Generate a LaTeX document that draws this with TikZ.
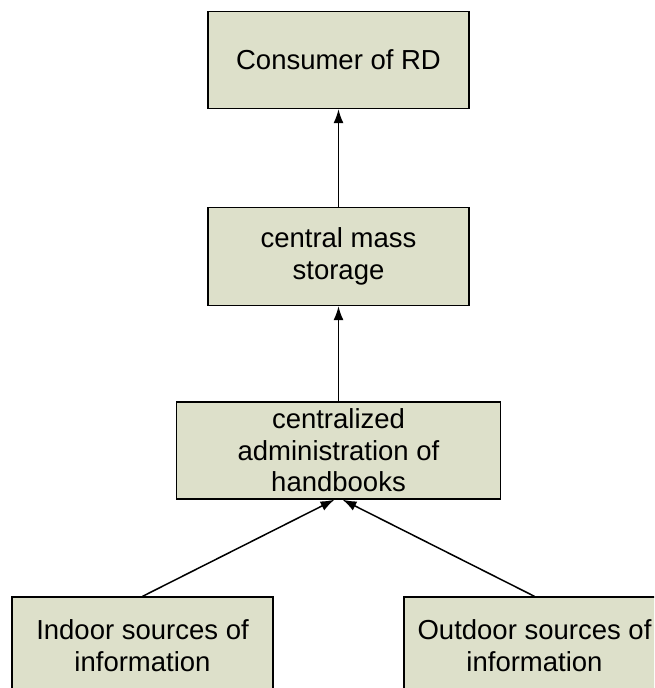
\documentclass[tikz,border=0pt]{standalone}
\usepackage{fontspec}
\setmainfont{Liberation Sans}
\usetikzlibrary{arrows.meta}
\definecolor{boxfill}{HTML}{DDE0CA}
\tikzset{
  block/.style={draw=black, line width=1.3pt, fill=boxfill, align=center,
    inner sep=0pt, font=\fontsize{27.5}{31.5}\selectfont},
  link/.style={line width=1.5pt, -{Latex[length=14pt,width=10pt]}}
}
\begin{document}
\begin{tikzpicture}[x=1pt,y=-1pt]
\useasboundingbox (0,0) rectangle (654,688);
\clip (0,0) rectangle (654,688);
\node[block, minimum width=261pt, minimum height=97pt] (cons) at (338.5,60) {Consumer of RD};
\node[block, minimum width=261pt, minimum height=98pt] (store) at (338.5,256.5) {central mass\\storage};
\node[block, minimum width=324pt, minimum height=97pt] (admin) at (338.5,450.5) {centralized\\administration of\\handbooks};
\node[block, minimum width=261pt, minimum height=97pt] (indoor) at (142.5,645.5) {Indoor sources of\\information};
\node[block, minimum width=261pt, minimum height=97pt] (outdoor) at (534.5,645.5) {Outdoor sources of\\information};
\draw[link] (store.north) -- (cons.south);
\draw[link] (admin.north) -- (store.south);
\draw[link] (indoor.north) -- ([xshift=-4pt]admin.south);
\draw[link] (outdoor.north) -- ([xshift=4pt]admin.south);
\end{tikzpicture}
\end{document}
